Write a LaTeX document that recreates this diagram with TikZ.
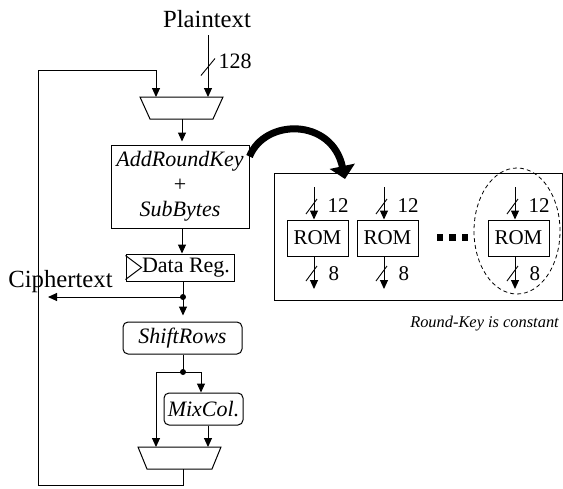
\documentclass[tikz,border=0pt]{standalone}
\usepackage{fontspec}
\setmainfont{Liberation Serif}
\usetikzlibrary{arrows.meta,shapes.geometric,calc}
\begin{document}
\begin{tikzpicture}[x=1pt,y=-1pt,line width=1pt,
  arr/.style={-{Triangle[length=9pt,width=8pt]}},
  box/.style={draw,rectangle,inner sep=0pt,font=\fontsize{22}{25}\selectfont},
  rbox/.style={draw,rectangle,rounded corners=5pt,inner sep=0pt,font=\fontsize{22}{25}\selectfont\itshape},
  rom/.style={draw,rectangle,minimum width=61pt,minimum height=36pt,inner sep=0pt,font=\fontsize{21}{24}\selectfont},
  lbl/.style={inner sep=0pt,anchor=base west,font=\fontsize{21}{24}\selectfont},
  big/.style={inner sep=0pt,anchor=base,font=\fontsize{24.7}{27}\selectfont},
  jdot/.style={circle,fill,inner sep=0pt,minimum size=6pt},
  sq/.style={rectangle,fill,inner sep=0pt,minimum size=6.5pt},
  busslash/.pic={\draw[line width=0.9pt] (-7,9) -- (7,-8);},
  romslash/.pic={\draw[line width=0.9pt] (-8,8) -- (3,-7);}]
\useasboundingbox (0,0) rectangle (563,488);

% ---------- left data path ----------
\node[big] (pt) at (207,27) {Plaintext};
\coordinate (pin) at (208,35);

% top multiplexer
\draw (140,97) -- (223,97) -- (213,119) -- (150,119) -- cycle;
\coordinate (m1a) at (156,97);
\coordinate (m1b) at (208,97);
\coordinate (m1o) at (182,119);

\node[box,minimum width=138pt,minimum height=83pt,align=center] (ark) at (180,186.5)
  {\textit{AddRoundKey}\\+\\\textit{SubBytes}};
\node[box,minimum width=108pt,minimum height=27pt] (dr) at (180,267.5) {\hspace*{12pt}Data Reg.};
\draw ([yshift=-2pt]dr.north west) -- ([xshift=16pt]dr.west) -- ([yshift=2pt]dr.south west);

\node[rbox,minimum width=119pt,minimum height=32pt] (sr) at (182.5,338) {ShiftRows};
\node[rbox,minimum width=79pt,minimum height=32pt] (mc) at (203.5,409) {MixCol.};

% bottom multiplexer
\draw (138,447) -- (221,447) -- (212,469) -- (147,469) -- cycle;
\coordinate (m2a) at (156,447);
\coordinate (m2b) at (208,447);
\coordinate (m2o) at (183,469);

\coordinate (d1) at (183,297);
\coordinate (d2) at (183,372);
\coordinate (cend) at (48,297);
\coordinate (fb1) at (38,485);
\coordinate (fb2) at (38,70);

% connectors
\draw[arr] (pin) -- (m1b);
\pic at (208,66.5) {busslash};
\node[lbl,font=\fontsize{22}{24}\selectfont] (l128) at (218,68) {128};

\draw[arr] (m2o) |- (fb1) -- (fb2) -| (m1a);
\draw[arr,shorten >=3pt] (m1o) -- (m1o |- ark.north);
\draw[arr] (ark.south -| m1o) -- (dr.north -| m1o);
\draw (dr.south -| d1) -- (d1);
\draw[arr,shorten >=6pt] (d1) -- (sr.north -| d1);
\draw[arr] (d1) -- (cend);
\node[jdot] (j1) at (d1) {};
\node[big] (ct) at (60.5,287) {Ciphertext};

\draw (sr.south -| d2) -- (d2);
\draw[arr] (d2) -| (m2a);
\draw[arr] (d2) -| ([xshift=-2.5pt]mc.north);
\node[jdot] (j2) at (d2) {};
\draw[arr] (mc.south -| m2b) -- (m2b);

% ---------- right panel ----------
\node[draw,minimum width=288pt,minimum height=127pt,inner sep=0pt] (panel) at (418,236.5) {};
\coordinate (kend) at (345,179);
\draw[line width=7pt,-{Triangle[length=13pt,width=25pt]}]
  ([yshift=-12pt]ark.north east) .. controls (265,118) and (332,118) .. (kend);

\node[rom] (rom1) at (317.5,238) {ROM};
\node[rom] (rom2) at (387.5,238) {ROM};
\node[rom] (rom3) at (518.5,238) {ROM};

\coordinate (i1) at (314,187);
\coordinate (i2) at (384,187);
\coordinate (i3) at (515,187);
\coordinate (o1) at (314,289);
\coordinate (o2) at (384,289);
\coordinate (o3) at (515,289);

\draw[arr] (i1) -- (i1 |- rom1.north);
\draw[arr] (i2) -- (i2 |- rom2.north);
\draw[arr] (i3) -- (i3 |- rom3.north);
\draw[arr] (o1 |- rom1.south) -- (o1);
\draw[arr] (o2 |- rom2.south) -- (o2);
\draw[arr] (o3 |- rom3.south) -- (o3);

\pic at (314,206) {romslash};
\pic at (384,206) {romslash};
\pic at (515,206) {romslash};
\pic at (314,273) {romslash};
\pic at (384,273) {romslash};
\pic at (515,273) {romslash};

\node[lbl] (n1) at (327,212) {12};
\node[lbl] (n2) at (397,212) {12};
\node[lbl] (n3) at (528,212) {12};
\node[lbl] (e1) at (328,280) {8};
\node[lbl] (e2) at (398,280) {8};
\node[lbl] (e3) at (529,280) {8};

\node[sq] (s1) at (440,237.5) {};
\node[sq] (s2) at (452.5,237.5) {};
\node[sq] (s3) at (465,237.5) {};

\node[ellipse,draw,dash pattern=on 4pt off 3pt,line width=0.8pt,minimum width=86pt,minimum height=126pt,inner sep=0pt] (el) at (517,231) {};

\node[inner sep=0pt,anchor=base,font=\fontsize{16.4}{18}\selectfont\itshape] (cap) at (484.5,327) {Round-Key is constant};
\end{tikzpicture}
\end{document}
